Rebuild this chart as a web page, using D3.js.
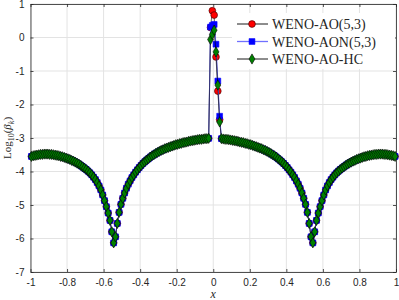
<!DOCTYPE html>
<html>
<head>
<meta charset="utf-8">
<script src="https://cdn.jsdelivr.net/npm/d3@7"></script>
<style>
  body { margin: 0; background: #fff; }
  svg text { fill: #262626; }
  .tick { font-family: "Liberation Sans", Arial, sans-serif; font-size: 10px; }
  .tex { font-family: "Liberation Serif", "DejaVu Serif", serif; }
</style>
</head>
<body>
<div id="chart"></div>
<script>
// smooth part, left of the jump: x = -0.995 ... -0.025 (step 0.01)
var smoothLeft = [
  -3.55, -3.53, -3.52, -3.51, -3.50, -3.49, -3.49, -3.48, -3.48, -3.48,
  -3.49, -3.49, -3.50, -3.51, -3.52, -3.53, -3.55, -3.56, -3.58, -3.60,
  -3.62, -3.64, -3.67, -3.69, -3.72, -3.75, -3.78, -3.82, -3.86, -3.90,
  -3.94, -3.99, -4.04, -4.10, -4.17, -4.24, -4.33, -4.43, -4.55, -4.70,
  -4.87, -5.05, -5.24, -5.46, -5.80, -6.13, -5.95, -5.55, -5.22, -4.98,
  -4.80, -4.64, -4.50, -4.38, -4.28, -4.18, -4.10, -4.02, -3.95, -3.88,
  -3.82, -3.76, -3.71, -3.66, -3.62, -3.57, -3.53, -3.50, -3.46, -3.43,
  -3.40, -3.37, -3.35, -3.32, -3.30, -3.28, -3.26, -3.24, -3.22, -3.20,
  -3.19, -3.17, -3.16, -3.14, -3.13, -3.12, -3.10, -3.09, -3.08, -3.07,
  -3.06, -3.05, -3.04, -3.04, -3.03, -3.02, -3.02, -3.01
];
// smooth part, right of the jump: x = 0.045 ... 0.995
var smoothRight = [
  -3.02, -3.03, -3.04, -3.04, -3.05, -3.06, -3.07, -3.08, -3.09, -3.10,
  -3.12, -3.13, -3.14, -3.16, -3.17, -3.19, -3.20, -3.22, -3.24, -3.26,
  -3.28, -3.30, -3.32, -3.35, -3.37, -3.40, -3.43, -3.46, -3.50, -3.53,
  -3.57, -3.62, -3.66, -3.71, -3.76, -3.82, -3.88, -3.95, -4.02, -4.10,
  -4.18, -4.28, -4.38, -4.50, -4.64, -4.80, -4.98, -5.22, -5.55, -5.95,
  -6.13, -5.80, -5.46, -5.24, -5.05, -4.87, -4.70, -4.55, -4.43, -4.33,
  -4.24, -4.17, -4.10, -4.04, -3.99, -3.94, -3.90, -3.86, -3.82, -3.78,
  -3.75, -3.72, -3.69, -3.67, -3.64, -3.62, -3.60, -3.58, -3.56, -3.55,
  -3.53, -3.52, -3.51, -3.50, -3.49, -3.49, -3.48, -3.48, -3.48, -3.49,
  -3.49, -3.50, -3.51, -3.52, -3.53, -3.55
];
// cells around the jump, x = -0.015 ... 0.035
var jumpAO  = [0.30, 0.80, 0.67, -0.58, -1.60, -2.45];
var jumpAON = [0.31, 0.36, 0.39, -0.20, -1.30, -2.35];
var jumpHC  = [-0.06, 0.09, 0.22, -0.43, -1.42, -2.52];

var xTicks = [-1, -0.8, -0.6, -0.4, -0.2, 0, 0.2, 0.4, 0.6, 0.8, 1];
var yTicks = [-7, -6, -5, -4, -3, -2, -1, 0, 1];

var xGrid = d3.range(200).map(function(i) { return -0.995 + i * 0.01; });

function buildSeries(jump) {
  var vals = smoothLeft.concat(jump, smoothRight);
  return xGrid.map(function(x, i) { return { x: x, y: vals[i] }; });
}

var series = [
  { name: "WENO-AO(5,3)",  data: buildSeries(jumpAO),  line: "#000000", lw: 0.6, marker: "circle",  fill: "#ff0000", edge: "#3a0000" },
  { name: "WENO-AON(5,3)", data: buildSeries(jumpAON), line: "#7070ff", lw: 1,   marker: "square",  fill: "#0000ff", edge: "#0000ff" },
  { name: "WENO-AO-HC",    data: buildSeries(jumpHC),  line: "#000000", lw: 0.6, marker: "diamond", fill: "#008000", edge: "#000000" }
];

var width = 399, height = 300;
var x = d3.scaleLinear().domain([-1, 1]).range([30.5, 396]);
var y = d3.scaleLinear().domain([-7, 1]).range([272, 4]);

// MATLAB style labels: plain hyphen for minus
var fmt = function(d) { return String(d); };

var svg = d3.select("#chart").append("svg")
  .attr("width", width)
  .attr("height", height);

// grid
svg.append("g").selectAll("line.gx")
  .data(xTicks).enter().append("line")
  .attr("x1", function(d) { return x(d); }).attr("x2", function(d) { return x(d); })
  .attr("y1", y(-7)).attr("y2", y(1))
  .attr("stroke", "#e3e3e3").attr("stroke-width", 1);
svg.append("g").selectAll("line.gy")
  .data(yTicks).enter().append("line")
  .attr("y1", function(d) { return y(d); }).attr("y2", function(d) { return y(d); })
  .attr("x1", x(-1)).attr("x2", x(1))
  .attr("stroke", "#e3e3e3").attr("stroke-width", 1);

// axes (inward ticks, box on)
var axB = svg.append("g").attr("class", "tick")
  .attr("transform", "translate(0," + y(-7) + ")")
  .call(d3.axisBottom(x).tickValues(xTicks).tickSizeInner(-3).tickSizeOuter(0).tickPadding(7).tickFormat(fmt));
var axL = svg.append("g").attr("class", "tick")
  .attr("transform", "translate(" + x(-1) + ",0)")
  .call(d3.axisLeft(y).tickValues(yTicks).tickSizeInner(-3).tickSizeOuter(0).tickPadding(6).tickFormat(fmt));
var axT = svg.append("g")
  .attr("transform", "translate(0," + y(1) + ")")
  .call(d3.axisTop(x).tickValues(xTicks).tickSizeInner(-3).tickSizeOuter(0).tickFormat(""));
var axR = svg.append("g")
  .attr("transform", "translate(" + x(1) + ",0)")
  .call(d3.axisRight(y).tickValues(yTicks).tickSizeInner(-3).tickSizeOuter(0).tickFormat(""));
[axB, axL, axT, axR].forEach(function(a) {
  a.selectAll("path, line").attr("stroke", "#262626").attr("stroke-width", 0.8);
  a.selectAll("text").attr("fill", "#262626").style("font-size", "10px");
});

// lines + markers
var lineGen = d3.line()
  .x(function(d) { return x(d.x); })
  .y(function(d) { return y(d.y); });

var symbolOf = {
  circle: d3.symbol().type(d3.symbolCircle).size(36),
  square: d3.symbol().type(d3.symbolSquare).size(34),
  diamond: d3.symbol().type(d3.symbolDiamond).size(30)
};

series.forEach(function(s) {
  var g = svg.append("g");
  g.append("path")
    .datum(s.data)
    .attr("fill", "none")
    .attr("stroke", s.line)
    .attr("stroke-width", s.lw)
    .attr("d", lineGen);
  g.selectAll("path.m")
    .data(s.data)
    .enter().append("path")
    .attr("class", "m")
    .attr("transform", function(d) { return "translate(" + x(d.x) + "," + y(d.y) + ")"; })
    .attr("d", symbolOf[s.marker])
    .attr("fill", s.fill)
    .attr("stroke", s.edge)
    .attr("stroke-width", 0.6);
});

// legend
var leg = svg.append("g").attr("transform", "translate(232,13)");
leg.append("rect")
  .attr("width", 163).attr("height", 56)
  .attr("fill", "#fff");
series.forEach(function(s, i) {
  var cy = 11 + i * 17.5;
  leg.append("line")
    .attr("x1", 5).attr("x2", 36).attr("y1", cy).attr("y2", cy)
    .attr("stroke", s.line).attr("stroke-width", s.lw + 0.3);
  leg.append("path")
    .attr("transform", "translate(20," + cy + ")")
    .attr("d", symbolOf[s.marker])
    .attr("fill", s.fill).attr("stroke", s.edge).attr("stroke-width", 0.6);
  leg.append("text")
    .attr("class", "tex")
    .attr("x", 40).attr("y", cy + 5)
    .style("font-size", "14px")
    .attr("fill", "#000")
    .text(s.name);
});

// axis labels
svg.append("text")
  .attr("class", "tex")
  .attr("x", x(0)).attr("y", 298)
  .attr("text-anchor", "middle")
  .style("font-size", "12px").style("font-style", "italic")
  .text("x");

var yl = svg.append("text")
  .attr("class", "tex")
  .attr("transform", "translate(11," + y(-3) + ") rotate(-90)")
  .attr("text-anchor", "middle")
  .style("font-size", "11px");
yl.append("tspan").text("Log");
yl.append("tspan").attr("dy", 2.5).style("font-size", "8px").text("10");
yl.append("tspan").attr("dy", -2.5).text("(");
yl.append("tspan").style("font-style", "italic").text("β");
yl.append("tspan").attr("dy", 2.5).style("font-size", "8px").style("font-style", "italic").text("k");
yl.append("tspan").attr("dy", -2.5).text(")");
</script>
</body>
</html>
